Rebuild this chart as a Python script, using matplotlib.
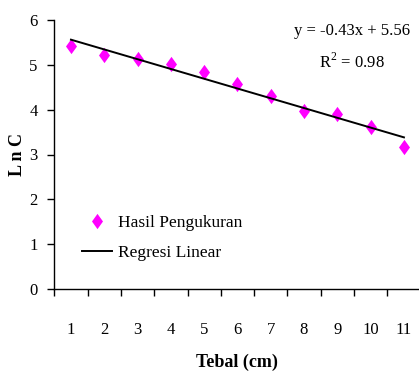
import numpy as np
import matplotlib
matplotlib.use("Agg")
import matplotlib.pyplot as plt
from matplotlib.ticker import FixedLocator
from matplotlib.path import Path

# Data
tebal = [1, 2, 3, 4, 5, 6, 7, 8, 9, 10, 11]
ln_c = [5.43, 5.22, 5.12, 5.02, 4.85, 4.57, 4.31, 3.97, 3.91, 3.62, 3.17]
eq_text = "y = -0.43x + 5.56"
r2_text = "R$^2$ = 0.98"

plt.rcParams['font.family'] = ['Liberation Serif', 'DejaVu Serif']
plt.rcParams['mathtext.fontset'] = 'custom'
plt.rcParams['mathtext.rm'] = 'Liberation Serif'

W, H = 419, 377
fig = plt.figure(figsize=(W/100, H/100), dpi=100)
ax = fig.add_axes([54.3/W, 88/H, (420.6-54.3)/W, 269/H])

x = np.array(tebal, dtype=float)
y = np.array(ln_c)
coef = np.polyfit(x, y, 1)
yfit = np.polyval(coef, x)

diamond = Path([(0, 1), (0.72, 0), (0, -1), (-0.72, 0), (0, 1)],
               [Path.MOVETO, Path.LINETO, Path.LINETO, Path.LINETO, Path.CLOSEPOLY])
ax.plot(x, y, linestyle='none', marker=diamond, markersize=11, color='#FF00FF',
        markeredgewidth=0, label='Hasil Pengukuran')
ax.plot(x, yfit, color='black', linewidth=1.4, label='Regresi Linear')

ax.set_xlim(0.5, 11.5)
ax.set_ylim(0, 6)
ax.set_yticks(range(0, 7))
ax.set_xticks(tebal)
ax.set_xticklabels([str(t) for t in tebal])
ax.xaxis.set_minor_locator(FixedLocator(np.arange(0.5, 11.6, 1.0)))
ax.tick_params(axis='x', which='major', length=0, pad=24, labelsize=12)
ax.tick_params(axis='x', which='minor', length=5, width=1, direction='out')
ax.tick_params(axis='y', which='major', length=5, width=1, direction='out', labelsize=12, pad=7)

for s in ['top', 'right']:
    ax.spines[s].set_visible(False)
for s in ['left', 'bottom']:
    ax.spines[s].set_linewidth(1)

ax.set_xlabel('Tebal (cm)', fontsize=13, fontweight='bold')
ax.xaxis.set_label_coords(237/W, 1 - 362/H, transform=fig.transFigure)
ax.set_ylabel('L n C', fontsize=13, fontweight='bold')
ax.yaxis.set_label_coords(17/W, 1 - 155/H, transform=fig.transFigure)
ax.xaxis.label.set_va('center')
ax.yaxis.label.set_va('center')

fig.text(352/W, 1 - 31/H, eq_text, ha='center', va='center', fontsize=12)
fig.text(352/W, 1 - 62/H, r2_text, ha='center', va='center', fontsize=12)

leg = ax.legend(loc='upper left', bbox_to_anchor=(82/W, 1 - 215/H),
                bbox_transform=fig.transFigure, frameon=False, fontsize=12.5,
                handlelength=1.75, handletextpad=0.35, borderaxespad=0, borderpad=0,
                labelspacing=0.8)

fig.savefig('out.png', dpi=100)
